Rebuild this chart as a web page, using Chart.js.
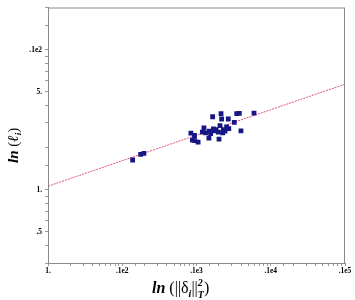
<!DOCTYPE html>
<html>
<head>
  <title>ln(l) x ln(delta)</title>
  <script src="https://cdn.jsdelivr.net/npm/chart.js"></script>
  <style>
    body { margin: 0; background: #fff; }
  </style>
</head>
<body>
  <canvas id="grafico" width="355" height="300"></canvas>

  <script>
    // valores (eixos logarítmicos)
    const pontosX = [13.8, 17.7, 19.6, 84, 94, 88, 95, 105, 126, 120, 133, 147, 149, 165, 169, 183,
                     197, 201, 207, 214, 218, 230, 242, 255, 268, 272, 323, 348, 377, 397, 595, 155, 178, 225];
    const pontosY = [1.63, 1.79, 1.82, 2.54, 2.44, 2.26, 2.24, 2.19, 2.76, 2.58, 2.55, 2.34, 2.62, 3.32, 2.72, 2.69,
                     2.58, 2.30, 2.87, 3.49, 3.20, 2.69, 2.62, 2.81, 3.20, 2.73, 3.03, 3.49, 3.51, 2.63, 3.52, 2.52, 2.63, 2.55];

    // reta ajustada
    const retaX = [1, 10000];
    const retaY = [1.06, 5.67];

    const ticksX = [1, 10, 100, 1000, 10000];
    const rotulosX = ['1.', '.1e2', '.1e3', '.1e4', '.1e5'];
    const ticksY = [0.5, 1, 5, 10];
    const rotulosY = ['.5', '1.', '5.', '.1e2'];

    const fonteSerif = '"Liberation Serif", "DejaVu Serif", serif';

    function rotulo(valor, lista, textos) {
      for (let i = 0; i < lista.length; i++) {
        if (Math.abs(valor - lista[i]) / lista[i] < 1e-6) return textos[i];
      }
      return '';
    }

    // desenha um texto com pedaços de fontes diferentes (sub/sobrescrito)
    function desenharPartes(ctx, partes, x, y) {
      ctx.textBaseline = 'alphabetic';
      ctx.textAlign = 'left';
      for (const p of partes) {
        if (p.pilha) {
          let larg = 0;
          for (const q of p.pilha) {
            ctx.font = q.fonte;
            ctx.fillText(q.t, x, y + q.dy);
            larg = Math.max(larg, ctx.measureText(q.t).width);
          }
          x += larg;
        } else {
          ctx.font = p.fonte;
          ctx.fillText(p.t, x, y + (p.dy || 0));
          x += ctx.measureText(p.t).width;
        }
      }
    }

    const titulos = {
      id: 'titulos',
      beforeDraw(chart) {
        const ctx = chart.ctx;
        ctx.save();
        ctx.fillStyle = '#fff';
        ctx.fillRect(0, 0, chart.width, chart.height);
        ctx.restore();
      },
      afterDraw(chart) {
        const ctx = chart.ctx;
        const a = chart.chartArea;
        ctx.save();
        // moldura do gráfico
        ctx.strokeStyle = '#8a8a8a';
        ctx.lineWidth = 1;
        ctx.strokeRect(a.left + 0.5, a.top + 0.5, a.right - a.left - 1, a.bottom - a.top);

        ctx.fillStyle = '#000';
        const bi = 'italic bold 16px ' + fonteSerif;
        const rg = '16px ' + fonteSerif;
        const pq = 'italic bold 10px ' + fonteSerif;

        // titulo do eixo x
        desenharPartes(ctx, [
          { t: 'ln', fonte: bi },
          { t: ' (||δ', fonte: rg },
          { t: 'i', fonte: pq, dy: 4 },
          { t: '||', fonte: rg },
          { pilha: [{ t: '2', fonte: pq, dy: -7 }, { t: 'T', fonte: pq, dy: 5 }] },
          { t: ')', fonte: rg }
        ], 152, 293);

        // titulo do eixo y
        ctx.translate(18, 163);
        ctx.rotate(-Math.PI / 2);
        desenharPartes(ctx, [
          { t: 'ln', fonte: 'italic bold 15px ' + fonteSerif },
          { t: ' (', fonte: '15px ' + fonteSerif },
          { t: 'ℓ', fonte: 'italic bold 15px ' + fonteSerif },
          { t: 'i', fonte: 'italic bold 9px ' + fonteSerif, dy: 3 },
          { t: ')', fonte: '15px ' + fonteSerif }
        ], 0, 0);
        ctx.restore();
      }
    };

    const dadosPontos = pontosX.map((x, i) => ({ x: x, y: pontosY[i] }));
    const dadosReta = retaX.map((x, i) => ({ x: x, y: retaY[i] }));

    const fonteTicks = { family: fonteSerif, size: 7.5, weight: 'bold' };

    const ctx = document.getElementById('grafico').getContext('2d');
    const grafico = new Chart(ctx, {
      type: 'scatter',
      data: {
        datasets: [
          {
            label: 'pontos',
            data: dadosPontos,
            backgroundColor: '#161685',
            borderColor: '#161685',
            borderWidth: 0,
            pointStyle: 'rect',
            pointRadius: 3.4,
          },
          {
            label: 'reta',
            data: dadosReta,
            showLine: true,
            pointRadius: 0,
            borderColor: '#e2507c',
            borderWidth: 1,
            borderDash: [2, 1],
          },
        ],
      },
      options: {
        responsive: false,
        animation: false,
        events: [],
        layout: { padding: { top: 3, right: 10, left: 0, bottom: 0 } },
        plugins: { legend: { display: false }, tooltip: { enabled: false } },
        scales: {
          x: {
            type: 'logarithmic',
            min: 1,
            max: 10000,
            afterFit: (s) => { s.height = 37; },
            border: { display: true, color: '#8a8a8a' },
            grid: { drawOnChartArea: false, tickLength: 3, color: '#999' },
            ticks: {
              autoSkip: false,
              maxRotation: 0,
              padding: 1,
              color: '#000',
              font: fonteTicks,
              callback: (v) => rotulo(v, ticksX, rotulosX),
            },
          },
          y: {
            type: 'logarithmic',
            min: 0.3,
            max: 20,
            afterFit: (s) => { s.width = 48; },
            border: { display: true, color: '#8a8a8a' },
            grid: { drawOnChartArea: false, tickLength: 3, color: '#999' },
            ticks: {
              autoSkip: false,
              padding: 3,
              color: '#000',
              font: fonteTicks,
              callback: (v) => rotulo(v, ticksY, rotulosY),
            },
          },
        },
      },
      plugins: [titulos],
    });
  </script>
</body>
</html>
